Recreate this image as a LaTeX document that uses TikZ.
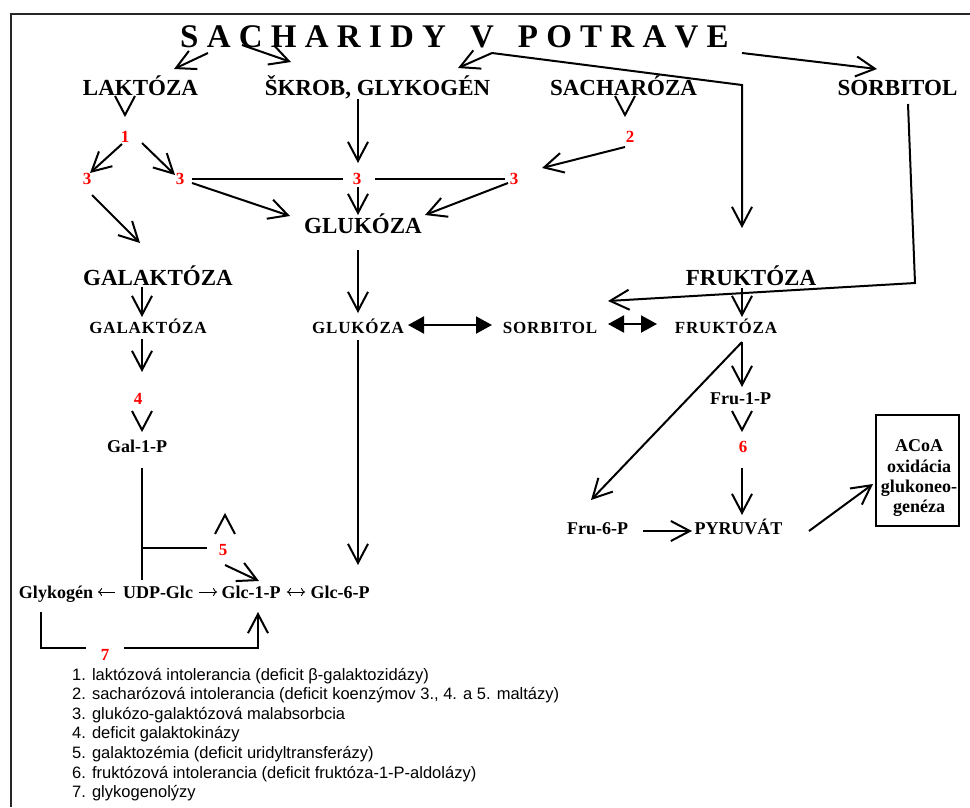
\documentclass[tikz,border=0pt]{standalone}
\usepackage{fontspec}
\setmainfont{Liberation Serif}
\newfontfamily\spacedserif{Liberation Serif}[LetterSpace=5]
\newfontfamily\legendfont{Liberation Sans}
\usetikzlibrary{arrows.meta}
\definecolor{numred}{RGB}{255,0,0}
\tikzset{
  lbl/.style={inner sep=0pt, outer sep=0pt, anchor=base, text depth=0pt},
  titl/.style={lbl, font=\bfseries\fontsize{33}{33}\selectfont, text height=22pt},
  bigl/.style={lbl, font=\bfseries\fontsize{23}{23}\selectfont, text height=15pt},
  midl/.style={lbl, font=\spacedserif\bfseries\fontsize{17}{17}\selectfont, text height=11pt},
  smll/.style={lbl, font=\bfseries\fontsize{18}{18}\selectfont, text height=12pt},
  numl/.style={lbl, font=\bfseries\fontsize{17}{17}\selectfont, text height=12pt, text=numred},
  legl/.style={inner sep=0pt, anchor=base west, font=\legendfont\fontsize{16.5}{19.6}\selectfont},
  conn/.style={line width=2pt},
  arrc/.style={conn, -{Straight Barb[length=19pt,width=20pt]}},
  dblc/.style={conn, {Triangle[length=16pt,width=17pt]}-{Triangle[length=16pt,width=17pt]}},
  tarrc/.style={line width=0.9pt, -{To[length=4pt,width=8pt]}},
  frame/.style={line width=1.6pt, black!85}
}
\begin{document}
\begin{tikzpicture}[x=1pt,y=-1pt]
\useasboundingbox (0,0) rectangle (970,807);
\draw[frame] (970,14) -- (11,14) -- (11,807);

% headings
\node[titl] (title) at (454.5,47) {S A C H A R I D Y\hspace{24pt}V\hspace{24pt}P O T R A V E};
\node[bigl] (lak)   at (140.5,95) {LAKTÓZA};
\node[bigl] (skr)   at (377.5,95) {ŠKROB, GLYKOGÉN};
\node[bigl] (sach)  at (623.5,95) {SACHARÓZA};
\node[bigl] (sorb1) at (897.5,95) {SORBITOL};
\node[bigl] (glu1)  at (363,233) {GLUKÓZA};
\node[bigl] (gal1)  at (158,285) {GALAKTÓZA};
\node[bigl] (fru1)  at (751,285) {FRUKTÓZA};

% inner row
\node[midl] (gal2)  at (148,333) {GALAKTÓZA};
\node[midl] (glu2)  at (358,333) {GLUKÓZA};
\node[midl] (sorb2) at (550,333) {SORBITOL};
\node[midl] (fru2)  at (726,333) {FRUKTÓZA};

% metabolites
\node[smll] (gal1p) at (137,452) {Gal-1-P};
\node[smll] (fru1p) at (740.5,404) {Fru-1-P};
\node[smll] (fru6p) at (597.5,534) {Fru-6-P};
\node[smll] (pyr)   at (738.5,534) {PYRUVÁT};
\node[smll] (glyk)  at (56,598) {Glykogén};
\node[smll] (udp)   at (158,598) {UDP-Glc};
\node[smll] (g1p)   at (251,598) {Glc-1-P};
\node[smll] (g6p)   at (340,598) {Glc-6-P};

% defect numbers
\node[numl] (n1)  at (125,142) {1};
\node[numl] (n2)  at (630,142) {2};
\node[numl] (n3a) at (87,184) {3};
\node[numl] (n3b) at (180,184) {3};
\node[numl] (n3c) at (357,184) {3};
\node[numl] (n3d) at (514,184) {3};
\node[numl] (n4)  at (138,404) {4};
\node[numl] (n5)  at (223,555) {5};
\node[numl] (n6)  at (743,452) {6};
\node[numl] (n7)  at (105,660) {7};

% end products box
\node[draw, line width=2pt, minimum width=83pt, minimum height=111pt, inner sep=0pt, outer sep=0pt] (acoa) at (917.5,470.5) {};
\node[inner sep=0pt, align=center, font=\bfseries\fontsize{18}{20.3}\selectfont] (acoatext) at (919,478.4) {ACoA\\oxidácia\\glukoneo-\\genéza};

% from the heading
\draw[arrc] ([shift={(-246.5,6)}]title.base) -- ([shift={(33.5,-11)}]lak.north);
\draw[arrc] ([shift={(-212.5,-2)}]title.base) -- ([shift={(-86.5,-18)}]skr.north);
\draw[arrc] ([shift={(37.5,6)}]title.base) -- ([shift={(80.5,-12)}]skr.north);
\draw[arrc] ([shift={(37.5,6)}]title.base) -- ([shift={(-9,-185)}]fru1.north) -- ([shift={(-9,-42)}]fru1.north);
\draw[arrc] ([shift={(287.5,6)}]title.base) -- ([shift={(-20.5,-11)}]sorb1.north);

% lactose branch
\draw[conn] ([shift={(0,-15)}]n1.north) ++(-10,-19) -- ++(10,19) -- ++(10,-19);
\draw[arrc] ([shift={(-3,2)}]n1.base) -- ([shift={(3,1)}]n3a.north);
\draw[arrc] ([shift={(17,1)}]n1.base) -- ([shift={(-5,3)}]n3b.north);
\draw[arrc] ([shift={(5,11)}]n3a.base) -- ([shift={(-18,-27)}]gal1.north);
\draw[arrc] ([shift={(12,-1)}]n3b.base) -- ([shift={(-73,-2)}]glu1.north);
\draw[conn] ([shift={(8,1)}]n3b.east) -- ([shift={(-10,1)}]n3c.west);
\draw[conn] ([shift={(14,1)}]n3c.east) -- ([shift={(-5,1)}]n3d.west);

% starch and sucrose
\draw[arrc] ([shift={(-19.5,4)}]skr.south) -- ([shift={(1,-9)}]n3c.north);
\draw[arrc] ([shift={(1,3)}]n3c.south) -- ([shift={(-5,-3)}]glu1.north);
\draw[arrc] ([shift={(-6,-1)}]n3d.base) -- ([shift={(62,-3)}]glu1.north);
\draw[conn] ([shift={(-5,-15)}]n2.north) ++(-10,-19) -- ++(10,19) -- ++(10,-19);
\draw[arrc] ([shift={(-5,5)}]n2.base) -- ([shift={(28,-4)}]n3d.north);

% glucose and galactose
\draw[arrc] ([shift={(-5,17)}]glu1.south) -- ([shift={(0,-9)}]glu2.north);
\draw[arrc] ([shift={(-16,2)}]gal1.south) -- ([shift={(-6,-5)}]gal2.north);
\draw[arrc] ([shift={(-6,6)}]gal2.south) -- ([shift={(4,-20)}]n4.north);
\draw[conn] ([shift={(5,-10)}]gal1p.north) ++(-10,-19) -- ++(10,19) -- ++(10,-19);
\draw[conn] ([shift={(5,16)}]gal1p.south) -- ([shift={(-16,-6)}]udp.north);
\draw[conn] ([shift={(5,96)}]gal1p.south) -- ([shift={(-11.75,-1)}]n5.west);
\draw[conn] ([shift={(2,-28)}]n5.north) ++(-10,19) -- ++(10,-19) -- ++(10,19);
\draw[arrc] ([shift={(2,10)}]n5.base) -- ([shift={(8,-5)}]g1p.north);
\draw[arrc] ([shift={(0,7)}]glu2.south) -- ([shift={(18,-21)}]g6p.north);

% glycogen row
\draw[tarrc, shorten <=8pt, shorten >=5pt] (udp.west) -- (glyk.east);
\draw[tarrc, shorten <=6pt, shorten >=4.5pt] (udp.east) -- (g1p.west);
\draw[tarrc, {To[length=4pt,width=8pt]}-{To[length=4pt,width=8pt]}, shorten <=6.5pt, shorten >=5.5pt] (g1p.east) -- (g6p.west);
\draw[conn] ([shift={(-15,14)}]glyk.south) |- ([shift={(-14.75,-6)}]n7.west);
\draw[arrc] ([shift={(14.75,-6)}]n7.east) -| ([shift={(7,14)}]g1p.south);

% polyol pathway and fructose
\draw[dblc] ([shift={(50,-8)}]glu2.base) -- ([shift={(-58,-8)}]sorb2.base);
\draw[dblc] ([shift={(58,-9)}]sorb2.base) -- ([shift={(-69,-9)}]fru2.base);
\draw[arrc] ([shift={(10.5,9)}]sorb1.south) -- ([shift={(17.5,188)}]sorb1.south) -- ([shift={(58,-21)}]sorb2.north);
\draw[arrc] ([shift={(-9,3)}]fru1.south) -- ([shift={(16,-5)}]fru2.north);
\draw[arrc] ([shift={(16,9)}]fru2.south) -- ([shift={(1.5,-5)}]fru1p.north);
\draw[arrc] ([shift={(16,9)}]fru2.south) -- ([shift={(-6.5,-22)}]fru6p.north);
\draw[conn] ([shift={(-1,-10)}]n6.north) ++(-10,-19) -- ++(10,19) -- ++(10,-19);
\draw[arrc] ([shift={(-1,16)}]n6.south) -- ([shift={(3.5,-7)}]pyr.north);
\draw[arrc] ([shift={(45.5,-3)}]fru6p.base) -- ([shift={(-46.5,-3)}]pyr.base);
\draw[arrc] ([shift={(70.5,-3)}]pyr.base) -- ([shift={(-3,13.5)}]acoa.west);

% legend
\foreach \txt [count=\i] in {
  {1. laktózová intolerancia (deficit β-galaktozidázy)},
  {2. sacharózová intolerancia (deficit koenzýmov 3., 4. a 5. maltázy)},
  {3. glukózo-galaktózová malabsorbcia},
  {4. deficit galaktokinázy},
  {5. galaktozémia (deficit uridyltransferázy)},
  {6. fruktózová intolerancia (deficit fruktóza-1-P-aldolázy)},
  {7. glykogenolýzy}}
  \node[legl] (leg\i) at (72,{680+(\i-1)*19.6}) {\txt};
\end{tikzpicture}
\end{document}
